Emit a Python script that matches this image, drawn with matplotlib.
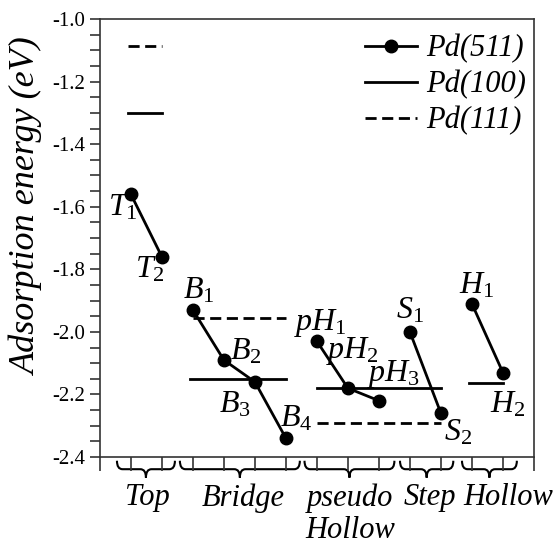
import matplotlib
matplotlib.use("Agg")
import matplotlib.pyplot as plt
from matplotlib.path import Path
from matplotlib.patches import PathPatch
from matplotlib.ticker import MultipleLocator

plt.rcParams["mathtext.fontset"] = "custom"
plt.rcParams["mathtext.it"] = "Liberation Serif:italic"
plt.rcParams["mathtext.rm"] = "Liberation Serif"
plt.rcParams["mathtext.default"] = "it"

# ---- data ----
pd511_groups = [[1, 2], [3, 4, 5, 6], [7, 8, 9], [10, 11], [12, 13]]
pd511_values = [[-1.56, -1.76], [-1.93, -2.09, -2.16, -2.34],
                [-2.03, -2.18, -2.22], [-2.00, -2.26], [-1.91, -2.13]]
pd511_labels = [["T_1", "T_2"], ["B_1", "B_2", "B_3", "B_4"],
                ["pH_1", "pH_2", "pH_3"], ["S_1", "S_2"], ["H_1", "H_2"]]

pd100_start = [0.9, 2.9, 7.0, 11.9]
pd100_end = [2.0, 6.0, 11.0, 13.0]
pd100_values = [-1.30, -2.15, -2.18, -2.165]

pd111_start = [0.9, 3.0, 7.0]
pd111_end = [2.0, 6.0, 11.0]
pd111_values = [-1.085, -1.955, -2.29]

categories = ["Top", "Bridge", "pseudo\nHollow", "Step", "Hollow"]
category_x = [1.52, 4.61, 8.06, 10.65, 13.16]
brace_start = [0.55, 2.58, 6.6, 9.68, 11.68]
brace_end = [2.42, 6.45, 9.5, 11.4, 13.45]

yticks = [-1.0, -1.2, -1.4, -1.6, -1.8, -2.0, -2.2, -2.4]

label_pos = {
    "T_1": (0.74, -1.60), "T_2": (1.62, -1.80),
    "B_1": (3.2, -1.865), "B_2": (4.7, -2.06), "B_3": (4.35, -2.23), "B_4": (6.32, -2.275),
    "pH_1": (7.1, -1.97), "pH_2": (8.16, -2.06), "pH_3": (9.48, -2.135),
    "S_1": (10.0, -1.93), "S_2": (11.55, -2.32),
    "H_1": (12.16, -1.85), "H_2": (13.16, -2.23),
}

serif = ["Liberation Serif", "DejaVu Serif"]

fig = plt.figure(figsize=(5.55, 5.46), dpi=100)
ax = fig.add_axes([0.180, 0.163, 0.782, 0.802])

lw = 2.0
for k, (xs, ys) in enumerate(zip(pd511_groups, pd511_values)):
    ax.plot(xs, ys, color="black", lw=lw, marker="o", markersize=9,
            label="Pd(511)" if k == 0 else None, zorder=3)
for k, (a, b, v) in enumerate(zip(pd100_start, pd100_end, pd100_values)):
    ax.plot([a, b], [v, v], color="black", lw=lw, ls="-",
            label="Pd(100)" if k == 0 else None, zorder=2)
for k, (a, b, v) in enumerate(zip(pd111_start, pd111_end, pd111_values)):
    ax.plot([a, b], [v, v], color="black", lw=lw, ls=(0, (4, 2)),
            label="Pd(111)" if k == 0 else None, zorder=2)

for grp in pd511_labels:
    for name in grp:
        base, sub = name.split("_")
        x, y = label_pos[name]
        ax.text(x, y, r"$%s_{%s}$" % (base, sub),
                fontsize=23, ha="center", va="center", zorder=4)

ax.set_xlim(0, 14)
ax.set_ylim(-2.4, -1.0)
ax.set_xticks(range(0, 15))
ax.set_xticklabels([])
ax.set_yticks(yticks)
ax.set_yticklabels(["%.1f" % v for v in yticks], family=serif, fontsize=15)
ax.yaxis.set_minor_locator(MultipleLocator(0.05))
ax.tick_params(axis="both", which="both", direction="out", length=7, width=1.2, color="#333333")
ax.tick_params(axis="x", length=10)
for s in ax.spines.values():
    s.set_color("#333333")
    s.set_linewidth(1.2)

ax.set_ylabel("Adsorption energy (eV)", family=serif, style="italic", fontsize=26)
ax.yaxis.set_label_coords(-0.128, 0.573)

def brace(x0, x1, ytop, ybot):
    xc = (x0 + x1) / 2
    ym = (ytop + ybot) / 2
    r = 0.18
    verts = [(x0, ytop), (x0, ym), (x0 + r, ym),
             (xc - r, ym),
             (xc, ym), (xc, ybot),
             (xc, ym), (xc + r, ym),
             (x1 - r, ym),
             (x1, ym), (x1, ytop)]
    codes = [Path.MOVETO, Path.CURVE3, Path.CURVE3,
             Path.LINETO,
             Path.CURVE3, Path.CURVE3,
             Path.CURVE3, Path.CURVE3,
             Path.LINETO,
             Path.CURVE3, Path.CURVE3]
    return Path(verts, codes)

for a, b in zip(brace_start, brace_end):
    p = PathPatch(brace(a, b, -2.412, -2.466), fill=False, lw=1.5, ec="black", clip_on=False)
    ax.add_patch(p)
for cx, c in zip(category_x, categories):
    ax.text(cx, -2.484, c, family=serif, style="italic", fontsize=22,
            ha="center", va="top", linespacing=1.15)

leg = ax.legend(loc="upper right", bbox_to_anchor=(1.018, 1.0), frameon=False,
                prop={"family": serif, "style": "italic", "size": 22},
                handlelength=1.7, handletextpad=0.3, labelspacing=0.22,
                borderaxespad=0.0, borderpad=0.5)

fig.savefig("out.png", dpi=100)
